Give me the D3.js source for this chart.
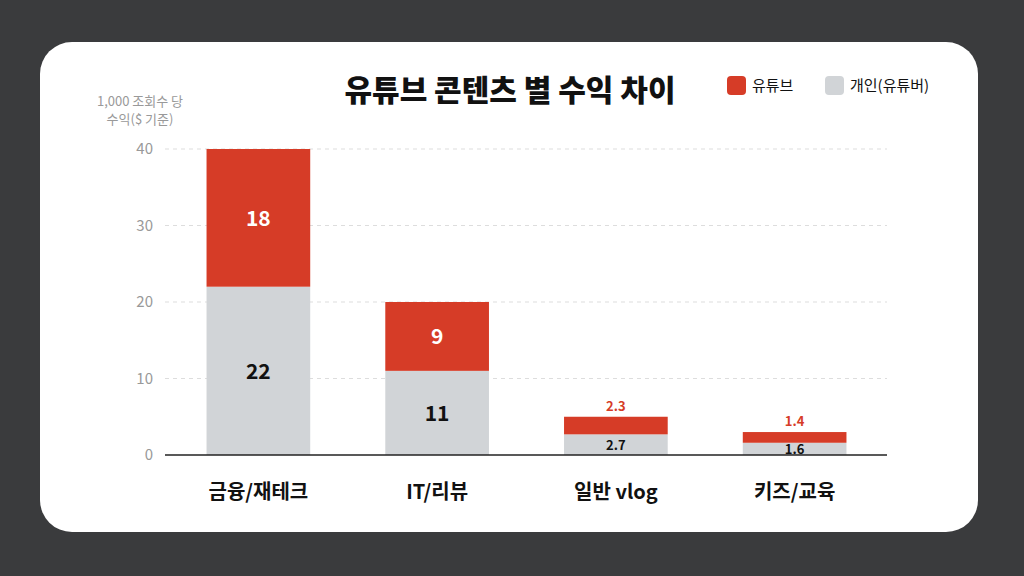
<!DOCTYPE html><html><head><meta charset="utf-8">
<script src="https://cdn.jsdelivr.net/npm/d3@7"></script>
<style>body{margin:0;background:#3a3b3d}svg{display:block}</style></head><body>
<svg id="c" width="1024" height="576"></svg>
<script>
const categories=["금융/재테크","IT/리뷰","일반 vlog","키즈/교육"];
const personal=[22,11,2.7,1.6];
const youtube=[18,9,2.3,1.4];
const yTicks=[0,10,20,30,40];
const red="#d63c27", gray="#d1d4d7";
const F="'Noto Sans CJK KR','Noto Sans',sans-serif";
const svg=d3.select("#c");
svg.append("rect").attr("width",1024).attr("height",576).attr("fill","#3a3b3d");
svg.append("rect").attr("x",40).attr("y",42).attr("width",938).attr("height",490).attr("rx",32).attr("fill","#fff");
const x=d3.scaleBand().domain(categories).range([169,884]).paddingInner(0.42).paddingOuter(0.21);
const y=d3.scaleLinear().domain([0,40]).range([455,149]);
const g=svg.append("g").style("font-family",F);
yTicks.forEach(t=>{
 if(t>0) g.append("line").attr("x1",165).attr("x2",887).attr("y1",y(t)).attr("y2",y(t)).attr("stroke","#ddd").attr("stroke-dasharray","4,4");
 g.append("text").attr("x",153).attr("y",y(t)+5).attr("text-anchor","end").attr("font-size",15).attr("fill","#999").text(t);
});
categories.forEach((c,i)=>{
 const bx=x(c),bw=x.bandwidth(),cx=bx+bw/2;
 g.append("rect").attr("x",bx).attr("y",y(personal[i])).attr("width",bw).attr("height",y(0)-y(personal[i])).attr("fill",gray);
 g.append("rect").attr("x",bx).attr("y",y(personal[i]+youtube[i])).attr("width",bw).attr("height",y(0)-y(youtube[i])).attr("fill",red);
 const big=youtube[i]>5;
 if(big){
  g.append("text").attr("x",cx).attr("y",(y(personal[i])+y(personal[i]+youtube[i]))/2+8).attr("text-anchor","middle").attr("font-size",21).attr("font-weight",700).attr("fill","#fff").text(youtube[i]);
  g.append("text").attr("x",cx).attr("y",(y(0)+y(personal[i]))/2+8).attr("text-anchor","middle").attr("font-size",21).attr("font-weight",700).attr("fill","#111").text(personal[i]);
 } else {
  g.append("text").attr("x",cx).attr("y",y(personal[i]+youtube[i])-6).attr("text-anchor","middle").attr("font-size",13).attr("font-weight",700).attr("fill",red).text(youtube[i]);
  g.append("text").attr("x",cx).attr("y",(y(0)+y(personal[i]))/2+5).attr("text-anchor","middle").attr("font-size",13).attr("font-weight",700).attr("fill","#111").text(personal[i]);
 }
 g.append("text").attr("x",cx).attr("y",499).attr("text-anchor","middle").attr("font-size",20).attr("font-weight",700).attr("fill","#111").text(c);
});
g.append("line").attr("x1",165).attr("x2",887).attr("y1",y(0)).attr("y2",y(0)).attr("stroke","#222").attr("stroke-width",1.5);
g.append("text").attr("x",510).attr("y",101).attr("text-anchor","middle").attr("font-size",30).attr("font-weight",900).attr("fill","#111").text("유튜브 콘텐츠 별 수익 차이");
g.append("text").attr("x",140).attr("y",106).attr("text-anchor","middle").attr("font-size",13).attr("fill","#999").text("1,000 조회수 당");
g.append("text").attr("x",140).attr("y",124).attr("text-anchor","middle").attr("font-size",13).attr("fill","#999").text("수익($ 기준)");
[[red,"유튜브",727],[gray,"개인(유튜버)",825]].forEach(([col,t,lx])=>{
 g.append("rect").attr("x",lx).attr("y",76).attr("width",19).attr("height",19).attr("rx",4).attr("fill",col);
 g.append("text").attr("x",lx+25).attr("y",91).attr("font-size",15).attr("fill","#111").text(t);
});
</script></body></html>
